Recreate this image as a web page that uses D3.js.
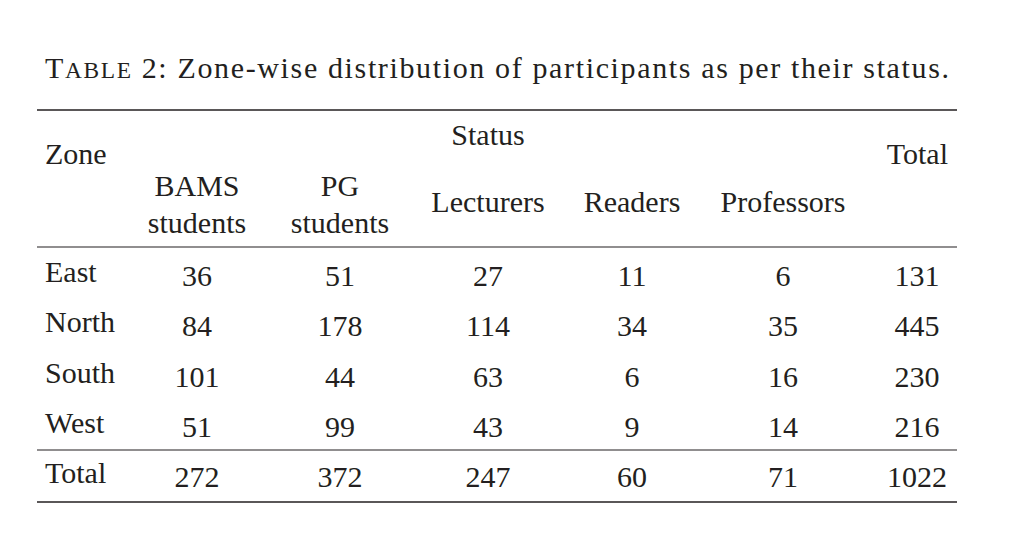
<!DOCTYPE html>
<html><head><meta charset="utf-8">
<script src="https://cdn.jsdelivr.net/npm/d3@7"></script>
<style>body{margin:0;background:#fff}text{font-family:"Liberation Serif","DejaVu Serif",serif;fill:#231f20}</style>
</head><body><svg id="c" width="1024" height="551"></svg>
<script>
let zones = ["East", "North", "South", "West"];
let bams = [36, 84, 101, 51];
let pg = [51, 178, 44, 99];
let lecturers = [27, 114, 63, 43];
let readers = [11, 34, 6, 9];
let professors = [6, 35, 16, 14];
let totals = [131, 445, 230, 216];
let columnTotals = [272, 372, 247, 60, 71, 1022];

let svg = d3.select('#c');
let fs = 30;

// title with small caps "Table", stretched to the reference width
let title = svg.append('text').attr('x', 45).attr('y', 78).style('font-size', fs + 'px')
    .attr('textLength', 904).attr('lengthAdjust', 'spacing');
title.append('tspan').text('T');
title.append('tspan').style('font-size', (fs * 0.78) + 'px').text('ABLE');
title.append('tspan').text(' 2: Zone-wise distribution of participants as per their status.');

let x = d3.scaleOrdinal()
    .domain(['bams', 'pg', 'lect', 'read', 'prof', 'total'])
    .range([197, 340, 488, 632, 783, 917]);

// rules
let rules = [[110, 1.5], [247, 1.2], [450, 1.2], [502, 1.5]];
svg.selectAll('line.rule').data(rules).join('line')
    .attr('x1', 37).attr('x2', 957)
    .attr('y1', d => d[0]).attr('y2', d => d[0])
    .attr('stroke', '#231f20').attr('stroke-width', d => d[1]);

function txt(s, xx, yy, anchor) {
    svg.append('text').attr('x', xx).attr('y', yy)
        .attr('text-anchor', anchor || 'middle')
        .style('font-size', fs + 'px').text(s);
}

// header
txt('Zone', 45, 164, 'start');
txt('Status', x('lect'), 145);
txt('Total', 948, 164, 'end');
txt('BAMS', x('bams'), 196); txt('students', x('bams'), 233);
txt('PG', x('pg'), 196); txt('students', x('pg'), 233);
txt('Lecturers', x('lect'), 212);
txt('Readers', x('read'), 212);
txt('Professors', x('prof'), 212);

let y = d3.scalePoint().domain(zones.concat(['Total'])).range([282, 483]);

let rows = zones.map((z, i) => ({ zone: z, vals: [bams[i], pg[i], lecturers[i], readers[i], professors[i], totals[i]] }));
rows.push({ zone: 'Total', vals: columnTotals });

let cols = x.domain();
rows.forEach(r => {
    txt(r.zone, 45, y(r.zone), 'start');
    r.vals.forEach((v, j) => {
        txt(v, x(cols[j]), y(r.zone) + 4);
    });
});
</script></body></html>
